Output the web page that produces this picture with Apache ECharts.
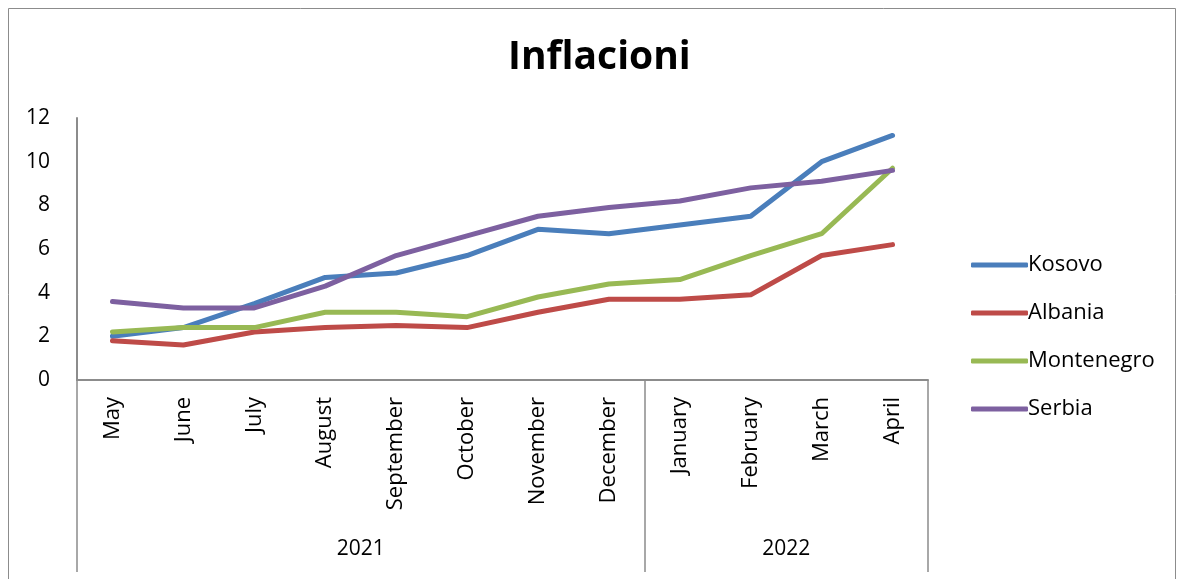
<!DOCTYPE html>
<html>
<head>
<meta charset="utf-8">
<title>Inflacioni</title>
<script src="https://cdn.jsdelivr.net/npm/echarts@6/dist/echarts.min.js"></script>
<style>
  html, body { margin: 0; padding: 0; background: #fff; }
  #chart { width: 1184px; height: 579px; }
</style>
</head>
<body>
<div id="chart"></div>
<script>
// Monthly inflation rate (%), May 2021 – April 2022
const months = ['May', 'June', 'July', 'August', 'September', 'October', 'November', 'December',
                'January', 'February', 'March', 'April'];
const years = ['2021', '2022'];
const monthsPerYear = [8, 4];

const kosovo     = [2.0, 2.4, 3.5, 4.7, 4.9, 5.7, 6.9, 6.7, 7.1, 7.5, 10.0, 11.2];
const albania    = [1.8, 1.6, 2.2, 2.4, 2.5, 2.4, 3.1, 3.7, 3.7, 3.9, 5.7, 6.2];
const montenegro = [2.2, 2.4, 2.4, 3.1, 3.1, 2.9, 3.8, 4.4, 4.6, 5.7, 6.7, 9.7];
const serbia     = [3.6, 3.3, 3.3, 4.3, 5.7, 6.6, 7.5, 7.9, 8.2, 8.8, 9.1, 9.6];

const yTicks = { min: 0, max: 12, interval: 2 };

// Year group boundaries and centres along the month axis
const bounds = [0];
monthsPerYear.forEach(n => bounds.push(bounds[bounds.length - 1] + n));
const centres = monthsPerYear.map((n, i) => bounds[i] + n / 2);

const FONT = '"Open Sans", Lato, sans-serif';
const AXIS_GREY = '#8c8c8c';

const seriesDefs = [
  { name: 'Kosovo', data: kosovo, color: '#4a7ebb' },
  { name: 'Albania', data: albania, color: '#be4b48' },
  { name: 'Montenegro', data: montenegro, color: '#98b954' },
  { name: 'Serbia', data: serbia, color: '#7d60a0' }
];

const chart = echarts.init(document.getElementById('chart'));

chart.setOption({
  animation: false,
  backgroundColor: '#fff',
  textStyle: { fontFamily: FONT },
  title: {
    text: 'Inflacioni',
    left: 503,
    top: 33,
    textStyle: { fontFamily: FONT, fontSize: 39, fontWeight: 'bold', color: '#000' }
  },
  graphic: [{
    type: 'rect',
    shape: { x: 8.5, y: 8.5, width: 1167, height: 620 },
    style: { fill: 'none', stroke: AXIS_GREY, lineWidth: 1 },
    silent: true,
    z: -1
  }],
  legend: {
    orient: 'vertical',
    left: 966,
    top: 249,
    itemWidth: 57,
    itemHeight: 5,
    itemGap: 26,
    icon: 'roundRect',
    textStyle: { fontFamily: FONT, fontSize: 22, color: '#000', padding: [0, 0, 0, -5] },
    data: seriesDefs.map(s => s.name)
  },
  grid: { left: 77, right: 256, top: 118, bottom: 199, containLabel: false },
  xAxis: [
    {
      type: 'category',
      data: months,
      boundaryGap: true,
      axisLine: { lineStyle: { color: AXIS_GREY, width: 2 } },
      axisTick: { show: false },
      axisLabel: {
        interval: 0,
        rotate: 90,
        margin: 17,
        fontFamily: FONT,
        fontSize: 22,
        color: '#000'
      },
      splitLine: { show: false }
    },
    {
      type: 'value',
      position: 'bottom',
      min: 0,
      max: months.length,
      axisLine: { show: false },
      axisTick: {
        show: true,
        customValues: bounds,
        length: 192,
        lineStyle: { color: AXIS_GREY, width: 1.5 }
      },
      axisLabel: {
        customValues: centres,
        formatter: v => years[centres.indexOf(v)],
        margin: 159,
        fontFamily: FONT,
        fontSize: 21,
        color: '#000'
      },
      splitLine: { show: false }
    }
  ],
  yAxis: {
    type: 'value',
    min: yTicks.min,
    max: yTicks.max,
    interval: yTicks.interval,
    axisLine: { show: true, lineStyle: { color: AXIS_GREY, width: 2 } },
    axisTick: { show: false },
    axisLabel: { margin: 27, fontFamily: FONT, fontSize: 21, color: '#000' },
    splitLine: { show: false }
  },
  series: seriesDefs.map(s => ({
    name: s.name,
    type: 'line',
    xAxisIndex: 0,
    data: s.data,
    showSymbol: false,
    symbol: 'none',
    color: s.color,
    lineStyle: { width: 5, color: s.color, cap: 'round', join: 'round' }
  }))
});
</script>
</body>
</html>
